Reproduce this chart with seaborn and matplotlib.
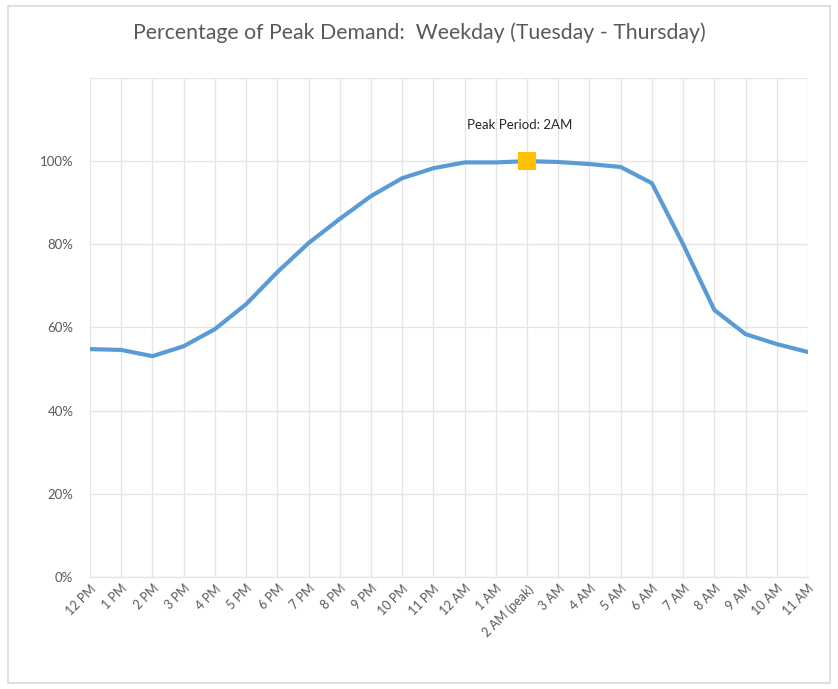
"""Percentage of peak demand over a weekday, Excel-style line chart."""

import matplotlib.pyplot as plt
import pandas as pd
import seaborn as sns
from matplotlib.patches import Rectangle
from matplotlib.ticker import FuncFormatter

HOURS = [
    "12 PM", "1 PM", "2 PM", "3 PM", "4 PM", "5 PM", "6 PM", "7 PM",
    "8 PM", "9 PM", "10 PM", "11 PM", "12 AM", "1 AM", "2 AM (peak)",
    "3 AM", "4 AM", "5 AM", "6 AM", "7 AM", "8 AM", "9 AM", "10 AM", "11 AM",
]
PEAK_SHARE = [
    0.548, 0.546, 0.531, 0.555, 0.596, 0.656, 0.733, 0.803,
    0.861, 0.916, 0.959, 0.983, 0.997, 0.997, 1.000,
    0.998, 0.993, 0.986, 0.947, 0.800, 0.642, 0.584, 0.560, 0.541,
]
PEAK_HOUR = "2 AM (peak)"
PEAK_LABEL = "Peak Period: 2AM"
TITLE = "Percentage of Peak Demand:  Weekday (Tuesday - Thursday)"

LINE_COLOR = "#5B9BD5"
PEAK_COLOR = "#FFC000"
TEXT_COLOR = "#595959"
GRID_COLOR = "#E4E4E4"

sns.set_theme(style="white")
plt.rcParams["font.family"] = ["Lato", "DejaVu Sans"]

df = pd.DataFrame({"hour": HOURS, "share": PEAK_SHARE})
df["pos"] = range(len(df))

fig = plt.figure(figsize=(8.38, 6.89), dpi=100)
ax = fig.add_axes([0.1074, 0.1626, 0.8568, 0.7242])

sns.lineplot(data=df, x="pos", y="share", color=LINE_COLOR, linewidth=3.0, ax=ax,
             sort=False)
peak = df[df["hour"] == PEAK_HOUR]
sns.scatterplot(data=peak, x="pos", y="share", marker="s", s=150, color=PEAK_COLOR,
                edgecolor=PEAK_COLOR, linewidth=0, zorder=5, ax=ax)
ax.annotate(PEAK_LABEL, (peak["pos"].iloc[0], peak["share"].iloc[0]),
            xytext=(-5, 22), textcoords="offset points", ha="center", va="bottom",
            fontsize=9.5, color="#262626")

ax.set_xlim(0, len(HOURS) - 1)
ax.set_ylim(0, 1.2)
ax.set_xticks(df["pos"])
ax.set_xticklabels(HOURS, rotation=45, ha="right", rotation_mode="anchor",
                   fontsize=9, color=TEXT_COLOR)
ax.set_yticks([0, 0.2, 0.4, 0.6, 0.8, 1.0])
ax.yaxis.set_major_formatter(FuncFormatter(lambda v, _: f"{v:.0%}"))
ax.tick_params(axis="y", labelsize=9.5, labelcolor=TEXT_COLOR, length=0, pad=12)
ax.tick_params(axis="x", length=0, pad=4)
ax.set_xlabel("")
ax.set_ylabel("")

ax.grid(True, color=GRID_COLOR, linewidth=0.9)
ax.axhline(1.2, color=GRID_COLOR, linewidth=0.9)
for side in ["left", "right", "top"]:
    ax.spines[side].set_visible(False)
ax.spines["bottom"].set_color(GRID_COLOR)
ax.spines["bottom"].set_linewidth(0.9)

fig.text(0.5, 0.953, TITLE, ha="center", va="center", fontsize=15.3, color=TEXT_COLOR)
fig.patches.append(Rectangle((0.009, 0.008), 0.982, 0.984, transform=fig.transFigure,
                             fill=False, edgecolor="#D9D9D9", linewidth=1.2))

fig.savefig("out.png", dpi=100)
